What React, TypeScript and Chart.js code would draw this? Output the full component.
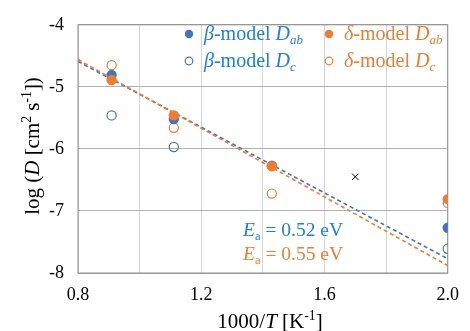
import React, { useEffect, useRef } from "react";
import { Chart, registerables } from "chart.js";
Chart.register(...registerables);

const invT = [0.909, 1.111, 1.429, 2.0];
const betaDab = [-4.81, -5.52, -6.27, -7.27];
const betaDc: (number | null)[] = [-5.46, -5.97, null, -7.61];
const deltaDab = [-4.89, -5.46, -6.28, -6.81];
const deltaDc = [-4.65, -5.66, -6.72, -6.87];
const fitX = [0.8, 2.0];
const betaFit = [-4.59, -7.77];
const deltaFit = [-4.56, -7.88];
const crossX = [1.7];
const crossY = [-6.45];
const xTickLabels = ["0.8", "1.2", "1.6", "2.0"];

const BLUE = "#4472C4";
const ORANGE = "#ED7D31";
const BLUE_TXT = "#1E7FE0";
const SERIF = '"Liberation Serif", "Times New Roman", serif';

type Seg = { t: string; i?: boolean; s?: "sub" | "sup" };

function segFont(seg: Seg, size: number) {
  const sz = seg.s ? size * 0.65 : size;
  return `${seg.i ? "italic " : ""}${sz}px ${SERIF}`;
}

function drawRich(ctx: CanvasRenderingContext2D, segs: Seg[], x: number, y: number, size: number, color: string, align: "left" | "center") {
  ctx.save();
  ctx.fillStyle = color;
  ctx.textBaseline = "alphabetic";
  ctx.textAlign = "left";
  let total = 0;
  const widths = segs.map((sg) => {
    ctx.font = segFont(sg, size);
    const w = ctx.measureText(sg.t).width;
    total += w;
    return w;
  });
  let cx = align === "center" ? x - total / 2 : x;
  segs.forEach((sg, k) => {
    ctx.font = segFont(sg, size);
    const dy = sg.s === "sub" ? size * 0.22 : sg.s === "sup" ? -size * 0.38 : 0;
    ctx.fillText(sg.t, cx, y + dy);
    cx += widths[k];
  });
  ctx.restore();
}

const pair = (xs: number[], ys: (number | null)[]) =>
  xs.map((x, k) => ({ x, y: ys[k] })).filter((p) => p.y !== null);

const overlay = {
  id: "overlay",
  beforeDatasetsDraw(chart: any) {
    const { ctx, chartArea: a } = chart;
    ctx.save();
    ctx.strokeStyle = "#8c8c8c";
    ctx.lineWidth = 1;
    ctx.strokeRect(a.left, a.top, a.right - a.left, a.bottom - a.top);
    ctx.restore();
  },
  afterDraw(chart: any) {
    const { ctx, chartArea: a } = chart;
    // axis titles
    drawRich(ctx, [{ t: "1000/" }, { t: "T", i: true }, { t: " [K" }, { t: "-1", s: "sup" }, { t: "]" }], 270, 328, 21, "#000", "center");
    ctx.save();
    ctx.translate(39, 146);
    ctx.rotate(-Math.PI / 2);
    drawRich(ctx, [{ t: "log (" }, { t: "D", i: true }, { t: " [cm" }, { t: "2", s: "sup" }, { t: " s" }, { t: "-1", s: "sup" }, { t: "])" }], 0, 0, 21, "#000", "center");
    ctx.restore();
    // legend
    const legend = [
      { x: 189, y: 34, c: BLUE, tc: BLUE_TXT, fill: true, g: "β", sub: "ab" },
      { x: 189, y: 61, c: BLUE, tc: BLUE_TXT, fill: false, g: "β", sub: "c" },
      { x: 329, y: 34, c: ORANGE, tc: ORANGE, fill: true, g: "δ", sub: "ab" },
      { x: 329, y: 61, c: ORANGE, tc: ORANGE, fill: false, g: "δ", sub: "c" },
    ];
    legend.forEach((L) => {
      ctx.save();
      ctx.beginPath();
      ctx.arc(L.x, L.y, L.fill ? 4.2 : 3.8, 0, Math.PI * 2);
      if (L.fill) {
        ctx.fillStyle = L.c;
        ctx.fill();
      } else {
        ctx.strokeStyle = L.c;
        ctx.lineWidth = 1.2;
        ctx.stroke();
      }
      ctx.restore();
      drawRich(ctx, [{ t: L.g, i: true }, { t: "-model " }, { t: "D", i: true }, { t: L.sub, i: true, s: "sub" }], L.x + 15, L.y + 6, 20, L.tc, "left");
    });
    // activation energies
    drawRich(ctx, [{ t: "E", i: true }, { t: "a", s: "sub" }, { t: " = 0.52 eV" }], 243, 235.5, 19.5, BLUE_TXT, "left");
    drawRich(ctx, [{ t: "E", i: true }, { t: "a", s: "sub" }, { t: " = 0.55 eV" }], 243, 259.5, 19.5, ORANGE, "left");
  },
};

export default function App() {
  const ref = useRef<HTMLCanvasElement>(null);
  useEffect(() => {
    if (!ref.current) return;
    const chart = new Chart(ref.current, {
      type: "scatter",
      data: {
        datasets: [
          { label: "δ Dab", data: pair(invT, deltaDab), backgroundColor: ORANGE, borderColor: ORANGE, pointRadius: 5.2, borderWidth: 0, order: 0 },
          { label: "β Dab", data: pair(invT, betaDab), backgroundColor: BLUE, borderColor: BLUE, pointRadius: 5.2, borderWidth: 0, order: 1 },
          { label: "δ Dc", data: pair(invT, deltaDc), backgroundColor: "rgba(0,0,0,0)", borderColor: ORANGE, pointRadius: 4.6, borderWidth: 1.2, order: 2 },
          { label: "β Dc", data: pair(invT, betaDc), backgroundColor: "rgba(0,0,0,0)", borderColor: BLUE, pointRadius: 4.6, borderWidth: 1.2, order: 3 },
          { label: "x", data: pair(crossX, crossY), pointStyle: "crossRot", borderColor: "#000", backgroundColor: "#000", pointRadius: 4.5, borderWidth: 1, order: 4 },
          { label: "δ fit", data: pair(fitX, deltaFit), showLine: true, borderColor: ORANGE, borderWidth: 1.6, borderDash: [4, 3], pointRadius: 0, order: 5 },
          { label: "β fit", data: pair(fitX, betaFit), showLine: true, borderColor: BLUE, borderWidth: 1.6, borderDash: [4, 3], pointRadius: 0, order: 6 },
        ],
      },
      options: {
        responsive: false,
        animation: false,
        devicePixelRatio: 1,
        layout: { padding: { left: 0, top: 16, right: 14, bottom: 0 } },
        plugins: { legend: { display: false }, tooltip: { enabled: false } },
        scales: {
          x: {
            type: "linear",
            min: 0.8,
            max: 2.0,
            afterFit: (s: any) => { s.height = 58; },
            border: { display: false },
            grid: { color: "#d6d6d6", drawTicks: false },
            ticks: {
              stepSize: 0.2,
              autoSkip: false,
              maxRotation: 0,
              padding: 11,
              color: "#000",
              font: { family: SERIF, size: 18 },
              callback: (_v: any, i: number) => (i % 2 === 0 ? xTickLabels[i / 2] : ""),
            },
          },
          y: {
            type: "linear",
            min: -8,
            max: -4,
            afterFit: (s: any) => { s.width = 78; },
            border: { display: false },
            grid: { color: "#b0b0b0", drawTicks: false },
            ticks: {
              stepSize: 1,
              padding: 14,
              color: "#000",
              font: { family: SERIF, size: 18 },
              callback: (v: any) => String(v),
            },
          },
        },
      },
      plugins: [overlay],
    });
    return () => chart.destroy();
  }, []);
  return (
    <div style={{ position: "absolute", left: 0, top: 0, width: 470, height: 331, background: "#fff" }}>
      <canvas ref={ref} width={470} height={331} style={{ display: "block" }} />
    </div>
  );
}
